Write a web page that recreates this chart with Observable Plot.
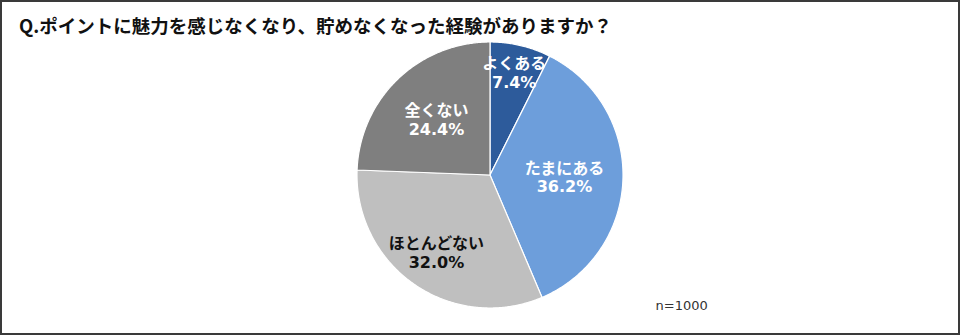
<!DOCTYPE html>
<html>
<head>
<meta charset="utf-8">
<script src="https://cdn.jsdelivr.net/npm/d3@7"></script>
<script src="https://cdn.jsdelivr.net/npm/@observablehq/plot@0.6"></script>
<style>
  html, body { margin: 0; padding: 0; background: #fff; }
  #wrap { position: relative; width: 960px; height: 335px; overflow: hidden; }
  #frame { position: absolute; left: 0; top: 0; width: 960px; height: 335px; box-sizing: border-box; border: 2px solid #3a3a3a; pointer-events: none; }
  #title { position: absolute; left: 19px; top: 12px; font-family: "Noto Sans CJK JP", sans-serif; font-weight: 700; font-size: 18.5px; color: #111; white-space: nowrap; }
  #chart { position: absolute; left: 0; top: 0; }
</style>
</head>
<body>
<div id="wrap">
  <div id="chart"></div>
  <div id="title">Q.ポイントに魅力を感じなくなり、貯めなくなった経験がありますか？</div>
  <div id="frame"></div>
</div>
<script>
// Data
const categories = ["よくある", "たまにある", "ほとんどない", "全くない"];
const values = [7.4, 36.2, 32.0, 24.4];
const valueLabels = ["7.4%", "36.2%", "32.0%", "24.4%"];
const sampleNote = "n=1000";

// Styles / layout
const colors = ["#2D5B9B", "#6D9EDB", "#BFBFBF", "#7F7F7F"];
const textColors = ["#ffffff", "#ffffff", "#111111", "#ffffff"];
const labelRadius = { "よくある": 0.79, "たまにある": 0.56, "ほとんどない": 0.71, "全くない": 0.58 };

const total = d3.sum(values);
const cum = d3.cumsum(values);
const slices = categories.map((c, i) => {
  const a0 = (cum[i] - values[i]) / total * 2 * Math.PI;
  const a1 = cum[i] / total * 2 * Math.PI;
  return { cat: c, a0, a1, value: values[i], label: valueLabels[i], color: textColors[i] };
});

// Build polygon outline points for each slice (in unit-circle data space)
const pts = [];
for (const s of slices) {
  pts.push({ cat: s.cat, x: 0, y: 0 });
  const n = Math.max(2, Math.ceil((s.a1 - s.a0) / (Math.PI / 360)));
  for (let k = 0; k <= n; k++) {
    const a = s.a0 + (s.a1 - s.a0) * k / n;
    pts.push({ cat: s.cat, x: Math.sin(a), y: Math.cos(a) });
  }
  pts.push({ cat: s.cat, x: 0, y: 0 });
}

const labels = slices.map(s => {
  const m = (s.a0 + s.a1) / 2;
  const r = labelRadius[s.cat];
  return { ...s, x: Math.sin(m) * r, y: Math.cos(m) * r, text: s.cat + "\n" + s.label };
});

const cx = 489.5, cy = 174.5, R = 133;

const chart = Plot.plot({
  width: 960,
  height: 335,
  margin: 0,
  style: { fontFamily: '"Noto Sans CJK JP", sans-serif', background: "transparent", overflow: "visible" },
  x: { domain: [-1, 1], range: [cx - R, cx + R], axis: null },
  y: { domain: [-1, 1], range: [cy + R, cy - R], axis: null },
  color: { domain: categories, range: colors },
  marks: [
    Plot.line(pts, { x: "x", y: "y", z: "cat", fill: "cat", stroke: "white", strokeWidth: 1.2, curve: "linear-closed" }),
    Plot.text(labels, { x: "x", y: "y", text: "text", lineHeight: 1.15, fill: d => d.color, fontSize: 16, fontWeight: 700, fontFamily: '"DejaVu Sans", "Noto Sans CJK JP", sans-serif' }),
    Plot.text([sampleNote], { frameAnchor: "bottom-left", dx: 655, dy: -26, text: d => d, fontSize: 13, fill: "#333", fontFamily: "DejaVu Sans" })
  ]
});
document.getElementById("chart").appendChild(chart);
</script>
</body>
</html>
